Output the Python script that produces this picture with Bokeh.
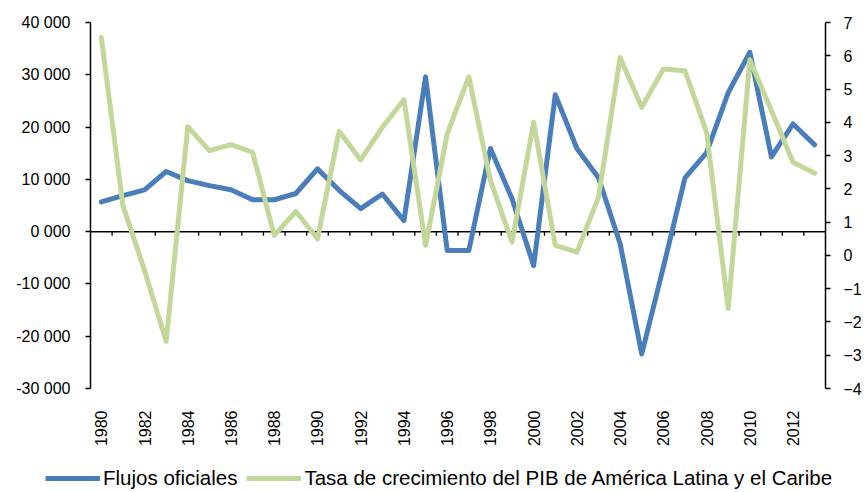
from bokeh.plotting import figure
from bokeh.models import Range1d, LinearAxis, FixedTicker, Span, Legend, LegendItem
from bokeh.embed import file_html
from bokeh.resources import INLINE

years = list(range(1980, 2014))
flujos = [5700, 6900, 8000, 11500, 9750, 8800, 8000, 6100, 6100, 7300,
          12000, 7900, 4400, 7200, 2100, 29600, -3600, -3600, 15900, 6300,
          -6500, 26200, 15900, 10300, -2300, -23400, -6800, 10300, 15100, 26600,
          34300, 14300, 20600, 16600]
pib = [6.55, 1.5, -0.45, -2.58, 3.87, 3.15, 3.33, 3.1, 0.6, 1.32,
       0.5, 3.73, 2.87, 3.85, 4.68, 0.3, 3.65, 5.37, 2.25, 0.4,
       4.0, 0.3, 0.1, 1.75, 5.95, 4.45, 5.6, 5.55, 3.7, -1.6,
       5.88, 4.35, 2.8, 2.47]
left_ticks = [-30000, -20000, -10000, 0, 10000, 20000, 30000, 40000]
left_tick_labels = ["-30 000", "-20 000", "-10 000", "0 000", "10 000", "20 000", "30 000", "40 000"]
right_ticks = [-4, -3, -2, -1, 0, 1, 2, 3, 4, 5, 6, 7]
year_ticks = list(range(1980, 2013, 2))
series_names = ["Flujos oficiales", "Tasa de crecimiento del PIB de América Latina y el Caribe"]

FONT = "Liberation Sans"
BLUE = "#4A7EBB"
GREEN = "#C4D79B"

p = figure(width=864, height=462, output_backend="svg", toolbar_location=None,
           x_range=Range1d(years[0] - 0.5, years[-1] + 0.5),
           y_range=Range1d(left_ticks[0], left_ticks[-1]),
           min_border_left=90, min_border_right=37, min_border_top=22, min_border_bottom=74)
p.extra_y_ranges = {"right": Range1d(right_ticks[0], right_ticks[-1])}
p.grid.visible = False
p.outline_line_color = None
p.background_fill_color = "white"
p.border_fill_color = "white"

# zero line
p.add_layout(Span(location=0, dimension="width", line_color="black", line_width=1.5, level="underlay"))
# category-boundary ticks on the zero line
tick_len = (left_ticks[-1] - left_ticks[0]) / 366 * 4
bounds = [y + 0.5 for y in years[:-1]]
p.segment(x0=bounds, y0=[0] * len(bounds), x1=bounds, y1=[-tick_len] * len(bounds),
          line_color="black", line_width=1.3, level="underlay")

r1 = p.line(years, flujos, line_color=BLUE, line_width=5, line_join="round", line_cap="round")
r2 = p.line(years, pib, line_color=GREEN, line_width=5, line_join="round", line_cap="round",
            y_range_name="right")

# bottom axis (labels only)
xa = p.xaxis[0]
xa.ticker = FixedTicker(ticks=year_ticks)
xa.major_label_orientation = 3.14159265 / 2
xa.axis_line_color = None
xa.major_tick_line_color = None
xa.major_tick_out = 0
xa.minor_tick_line_color = None
xa.major_label_standoff = 22
xa.major_label_text_font = FONT
xa.major_label_text_font_size = "16px"
xa.major_label_text_color = "black"

# left axis
ya = p.yaxis[0]
ya.ticker = FixedTicker(ticks=left_ticks)
ya.major_label_overrides = {t: l for t, l in zip(left_ticks, left_tick_labels)}
ya.axis_line_color = "black"
ya.axis_line_width = 1.5
ya.major_tick_out = 5
ya.major_tick_in = 0
ya.major_tick_line_width = 1.5
ya.minor_tick_line_color = None
ya.major_label_standoff = 15
ya.major_label_text_font = FONT
ya.major_label_text_font_size = "16px"
ya.major_label_text_color = "black"

# right axis
ra = LinearAxis(y_range_name="right", ticker=FixedTicker(ticks=right_ticks))
ra.axis_line_color = "black"
ra.axis_line_width = 1.5
ra.major_tick_out = 5
ra.major_tick_in = 0
ra.major_tick_line_width = 1.5
ra.minor_tick_line_color = None
ra.major_label_standoff = 13
ra.major_label_text_font = FONT
ra.major_label_text_font_size = "16px"
ra.major_label_text_color = "black"
p.add_layout(ra, "right")

# legend strip (separate root so its frame spans the full width)
nan = float("nan")
lg = figure(width=864, height=30, output_backend="svg", toolbar_location=None,
            x_axis_location=None, y_axis_location=None,
            x_range=Range1d(0, 1), y_range=Range1d(0, 1),
            min_border=0, min_border_left=0, min_border_right=0, min_border_top=0, min_border_bottom=0)
lg.grid.visible = False
lg.outline_line_color = None
l1 = lg.line([nan], [nan], line_color=BLUE, line_width=5)
l2 = lg.line([nan], [nan], line_color=GREEN, line_width=5)
legend = Legend(items=[LegendItem(label=series_names[0], renderers=[l1]),
                       LegendItem(label=series_names[1], renderers=[l2])],
                orientation="horizontal", location=(45, 2),
                glyph_width=55, glyph_height=20, label_standoff=3, spacing=9,
                padding=0, margin=0, border_line_color=None, background_fill_alpha=0,
                label_text_font=FONT, label_text_font_size="20.5px", label_text_color="black")
lg.add_layout(legend, "center")

open("out.html", "w").write(file_html([p, lg], INLINE))
